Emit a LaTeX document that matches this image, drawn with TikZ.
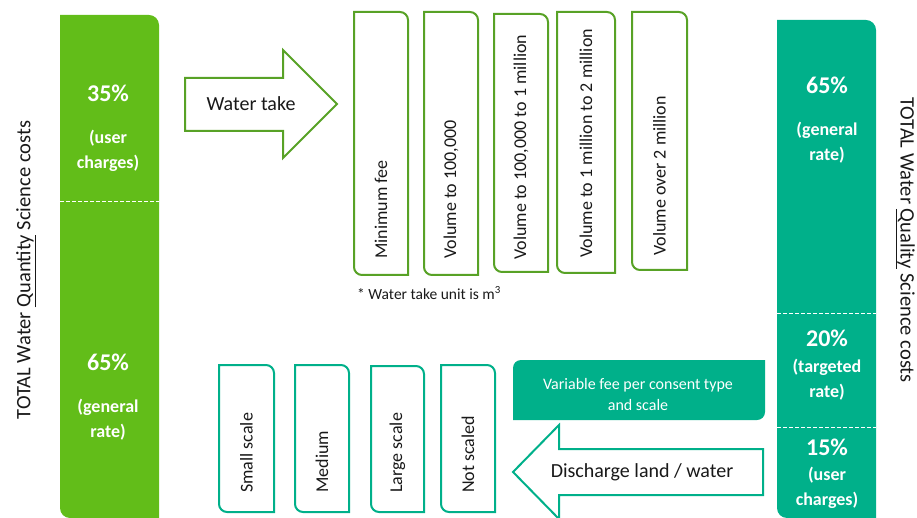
\documentclass[tikz,border=0pt]{standalone}
\usepackage{fontspec}
\setmainfont{Carlito}
\definecolor{qgreen}{RGB}{98,189,25}
\definecolor{qteal}{RGB}{0,176,138}
\definecolor{boxgreen}{RGB}{88,162,38}
\definecolor{txt}{RGB}{25,25,25}
% rounded top-right and bottom-left corners
\newcommand{\diagTR}[6]{%
  \path[#6] (#1,#2) -- ({#3-#5},#2) arc[start angle=-90,end angle=0,radius=#5]
    -- (#3,#4) -- ({#1+#5},#4) arc[start angle=90,end angle=180,radius=#5] -- cycle;}
% rounded top-left and bottom-right corners
\newcommand{\diagTL}[6]{%
  \path[#6] (#1,{#2+#5}) arc[start angle=180,end angle=270,radius=#5]
    -- (#3,#2) -- (#3,{#4-#5}) arc[start angle=0,end angle=90,radius=#5] -- (#1,#4) -- cycle;}
\tikzset{
  gbox/.style={draw=boxgreen, line width=2pt, fill=white},
  tbox/.style={draw=qteal, line width=2pt, fill=white},
  vlabel/.style={rotate=90, anchor=west, inner sep=0pt, font=\fontsize{18}{22}\selectfont, text=txt},
  pct/.style={text=white, font=\bfseries\fontsize{24}{28}\selectfont, inner sep=0pt},
  lbl/.style={text=white, font=\bfseries\fontsize{18}{25}\selectfont, align=center, inner sep=0pt},
  dashsep/.style={white, line width=1pt, dash pattern=on 4pt off 2pt},
  arrowshape/.style={fill=white, line width=2pt, line join=miter},
  title/.style={font=\fontsize{20.5}{24}\selectfont, text=txt, inner sep=0pt},
  arrowtext/.style={font=\fontsize{20}{24}\selectfont, text=txt, inner sep=0pt},
}
\begin{document}
\begin{tikzpicture}[x=1pt,y=-1pt]
\useasboundingbox (0,0) rectangle (917,518);
\clip (0,0) rectangle (917,518);

% ---- left bar (water quantity)
\diagTR{60}{15}{159}{518}{10}{fill=qgreen}
\draw[dashsep] (60,202) -- (159,202);
\node[pct] (lp35) at (108,93) {35\%};
\node[lbl] (ll35) at (108,151) {(user\\charges)};
\node[pct] (lp65) at (108,362) {65\%};
\node[lbl] (ll65) at (108,419.5) {(general\\rate)};
\node[title, rotate=90] (qtytitle) at (26,270) {TOTAL Water \underline{Quantity} Science costs};

% ---- water take arrow
\draw[arrowshape, draw=boxgreen] (185,78) -- (283,78) -- (283,50) -- (337,104)
   -- (283,158) -- (283,131) -- (185,131) -- cycle;
\node[arrowtext] (watertake) at (251,104) {Water take};

% ---- water take boxes
\diagTR{354}{12}{408}{275}{8}{gbox}
\diagTR{424}{12}{478}{275}{8}{gbox}
\diagTR{494}{14}{548}{272}{8}{gbox}
\diagTR{557}{12}{615}{273}{8}{gbox}
\diagTR{632}{12}{687}{270}{8}{gbox}
\node[vlabel] (g1) at (381,259) {Minimum fee};
\node[vlabel] (g2) at (451,259) {Volume to 100,000};
\node[vlabel] (g3) at (521,260) {Volume to 100,000 to 1 million};
\node[vlabel] (g4) at (586,258) {Volume to 1 million to 2 million};
\node[vlabel] (g5) at (659.5,256) {Volume over 2 million};
\node[anchor=west, inner sep=0pt, font=\fontsize{15.5}{18}\selectfont, text=txt] (foot)
   at (357,293) {* Water take unit is m\textsuperscript{3}};

% ---- right bar (water quality)
\diagTR{777}{20}{876}{518}{10}{fill=qteal}
\draw[dashsep] (777,313) -- (876,313);
\draw[dashsep] (777,427) -- (876,427);
\node[pct] (rp65) at (827,85) {65\%};
\node[lbl] (rl65) at (827,142.5) {(general\\rate)};
\node[pct] (rp20) at (827,338) {20\%};
\node[lbl] (rl20) at (827,379.5) {(targeted\\rate)};
\node[pct] (rp15) at (827,447) {15\%};
\node[lbl] (rl15) at (827,487.5) {(user\\charges)};
\node[title, rotate=-90] (qualtitle) at (905,240) {TOTAL Water \underline{Quality} Science costs};

% ---- variable fee box
\diagTL{513}{360}{765}{420}{8}{fill=qteal}
\node[text=white, align=center, inner sep=0pt, font=\fontsize{16}{21}\selectfont] (varfee)
   at (638,394.5) {Variable fee per consent type\\and scale};

% ---- discharge arrow
\draw[arrowshape, draw=qteal] (763,449) -- (559,449) -- (559,425) -- (513,472)
   -- (559,519) -- (559,495) -- (763,495) -- cycle;
\node[arrowtext] (discharge) at (642,472) {Discharge land / water};

% ---- discharge boxes
\diagTR{219}{365}{274}{512}{8}{tbox}
\diagTR{295}{365}{349}{512}{8}{tbox}
\diagTR{371}{366}{424}{512}{8}{tbox}
\diagTR{441}{365}{495}{512}{8}{tbox}
\node[vlabel] (t1) at (246.5,493) {Small scale};
\node[vlabel] (t2) at (322,493) {Medium};
\node[vlabel] (t3) at (397.5,493) {Large scale};
\node[vlabel] (t4) at (468,493) {Not scaled};
\end{tikzpicture}
\end{document}
